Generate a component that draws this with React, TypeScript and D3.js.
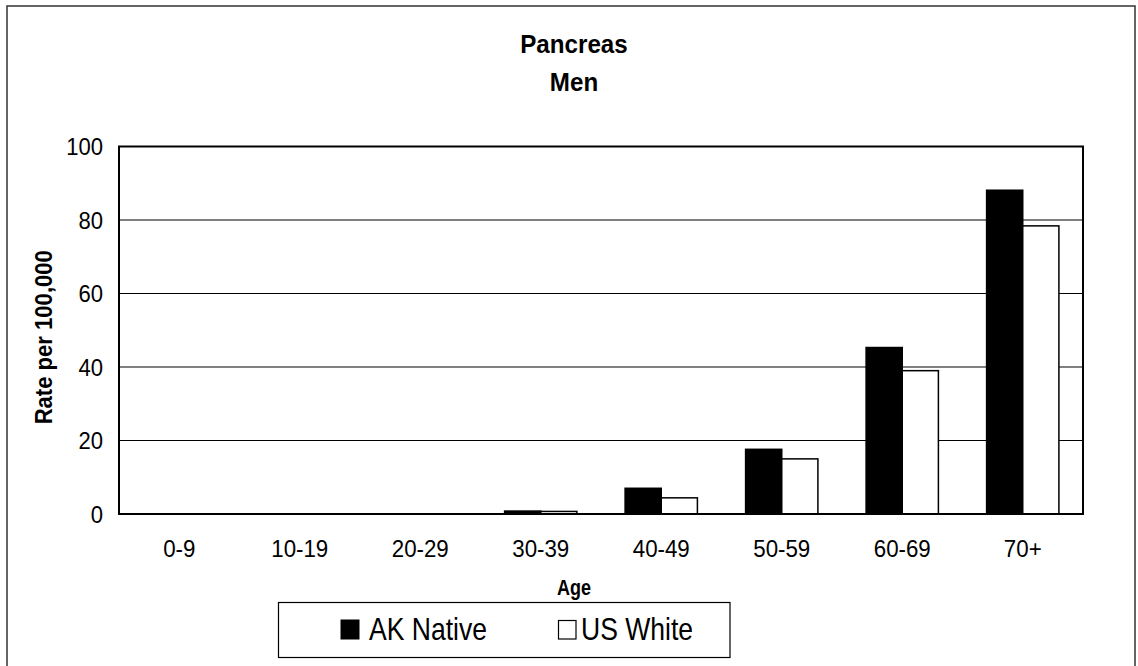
import React from 'react';
import * as d3 from 'd3';

const ageGroups = ['0-9', '10-19', '20-29', '30-39', '40-49', '50-59', '60-69', '70+'];
const akNative = [0, 0, 0, 0.8, 7.0, 17.6, 45.3, 88.1];
const usWhite = [0, 0, 0, 0.7, 4.4, 15.0, 39.0, 78.4];
const seriesNames = ['AK Native', 'US White'];
const seriesFill = ['#000', '#fff'];
const yTicks = [0, 20, 40, 60, 80, 100];

const W = 1138;
const H = 666;
const plot = { left: 119, right: 1083, top: 146.5, bottom: 514 };
const FONT = '"Liberation Sans", Arial, sans-serif';

// stretched text helper: the original has a slightly condensed look
const Txt: React.FC<{
  x: number; y: number; size: number; sx?: number; bold?: boolean;
  anchor?: 'start' | 'middle' | 'end'; rotate?: number; children: React.ReactNode;
}> = ({ x, y, size, sx = 1, bold, anchor = 'start', rotate = 0, children }) => (
  <text
    transform={`translate(${x},${y}) rotate(${rotate}) scale(${sx},1)`}
    fontFamily={FONT}
    fontSize={size}
    fontWeight={bold ? 'bold' : 'normal'}
    textAnchor={anchor}
    fill="#000"
  >
    {children}
  </text>
);

const App: React.FC = () => {
  const x = d3.scaleBand<string>()
    .domain(ageGroups)
    .range([plot.left, plot.right])
    .paddingInner(0.4)
    .paddingOuter(0.2);

  const xs = d3.scaleBand<string>()
    .domain(seriesNames)
    .range([0, x.bandwidth()])
    .padding(0);

  const y = d3.scaleLinear()
    .domain([0, 100])
    .range([plot.bottom, plot.top]);

  const series = [akNative, usWhite];

  return (
    <svg width={W} height={H} style={{ position: 'absolute', left: 0, top: 0, background: '#fff' }}>
      {/* outer frame */}
      <rect x={7} y={6} width={1128} height={700} fill="#fff" stroke="#333" strokeWidth={1.5} />

      <Txt x={574} y={53} size={26} sx={0.93} bold anchor="middle">Pancreas</Txt>
      <Txt x={574} y={90.5} size={26} sx={0.93} bold anchor="middle">Men</Txt>

      {/* gridlines */}
      {yTicks.slice(1, -1).map(t => (
        <line key={t} x1={plot.left} x2={plot.right} y1={y(t)} y2={y(t)} stroke="#000" strokeWidth={1} />
      ))}

      {/* bars */}
      {ageGroups.map((g, i) => (
        <g key={g} transform={`translate(${x(g)},0)`}>
          {seriesNames.map((s, j) => {
            const v = series[j][i];
            if (v <= 0) return null;
            return (
              <rect
                key={s}
                x={xs(s)}
                y={y(v)}
                width={xs.bandwidth()}
                height={y(0) - y(v)}
                fill={seriesFill[j]}
                stroke="#000"
                strokeWidth={1.5}
              />
            );
          })}
        </g>
      ))}

      {/* plot border */}
      <rect x={plot.left} y={plot.top} width={plot.right - plot.left} height={plot.bottom - plot.top}
        fill="none" stroke="#000" strokeWidth={2} />

      {/* y tick labels */}
      {yTicks.map(t => (
        <Txt key={t} x={103} y={y(t) + 8.5} size={24} sx={0.92} anchor="end">{t}</Txt>
      ))}

      {/* x tick labels */}
      {ageGroups.map(g => (
        <Txt key={g} x={(x(g) ?? 0) + x.bandwidth() / 2} y={557} size={24} sx={0.93} anchor="middle">{g}</Txt>
      ))}

      <Txt x={574} y={595} size={22} sx={0.82} bold anchor="middle">Age</Txt>
      <Txt x={52} y={(plot.top + plot.bottom) / 2 + 7} size={23} sx={0.96} bold anchor="middle" rotate={-90}>
        Rate per 100,000
      </Txt>

      {/* legend */}
      <rect x={278.5} y={602.5} width={451.5} height={55} fill="#fff" stroke="#000" strokeWidth={1.2} />
      <rect x={341} y={620} width={18} height={19} fill="#000" stroke="#000" strokeWidth={1} />
      <Txt x={369} y={640} size={32} sx={0.83}>{seriesNames[0]}</Txt>
      <rect x={558.5} y={620.5} width={17.5} height={18.5} fill="#fff" stroke="#000" strokeWidth={1.2} />
      <Txt x={581} y={640} size={32} sx={0.83}>{seriesNames[1]}</Txt>
    </svg>
  );
};

export default App;
